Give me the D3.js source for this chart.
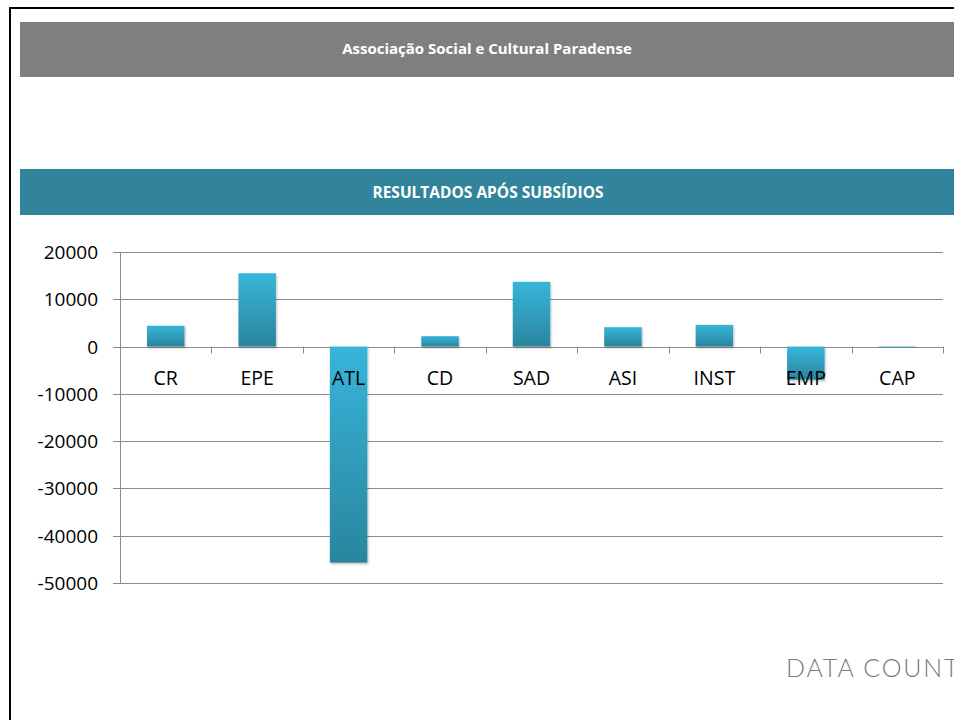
<!DOCTYPE html>
<html>
<head>
<meta charset="utf-8">
<script src="https://cdn.jsdelivr.net/npm/d3@7"></script>
<style>
  body { margin: 0; background: #fff; }
  svg { display: block; }
</style>
</head>
<body>
<div id="chart"></div>
<script>
const title = 'Associação Social e Cultural Paradense'
const subtitle = 'RESULTADOS APÓS SUBSÍDIOS'
const categories = ['CR', 'EPE', 'ATL', 'CD', 'SAD', 'ASI', 'INST', 'EMP', 'CAP']
const values = [4400, 15500, -45700, 2200, 13700, 4100, 4600, -7000, -150]
const yTicks = [20000, 10000, 0, -10000, -20000, -30000, -40000, -50000]

const width = 954
const height = 720

const svg = d3.select('#chart')
    .append('svg')
    .attr('width', width)
    .attr('height', height)

// page frame (left + top edges only visible)
svg.append('path')
    .attr('d', 'M10,720 V8 H954')
    .attr('fill', 'none')
    .attr('stroke', '#000')
    .attr('stroke-width', 2)

// grey header
svg.append('rect')
    .attr('x', 20).attr('y', 22).attr('width', 934).attr('height', 55)
    .attr('fill', '#7f7f7f')
svg.append('text')
    .attr('x', 487).attr('y', 54)
    .attr('text-anchor', 'middle')
    .attr('fill', '#fff')
    .attr('font-family', 'Open Sans, sans-serif')
    .attr('font-weight', 700)
    .attr('font-size', 15)
    .text(title)

// teal band
svg.append('rect')
    .attr('x', 20).attr('y', 169).attr('width', 934).attr('height', 46)
    .attr('fill', '#31849b')
svg.append('text')
    .attr('x', 488).attr('y', 198)
    .attr('text-anchor', 'middle')
    .attr('fill', '#fff')
    .attr('font-family', 'Open Sans, sans-serif')
    .attr('font-weight', 700)
    .attr('font-size', 15.5)
    .text(subtitle)

// scales
const x = d3.scaleBand()
    .domain(categories)
    .range([120, 943])
    .paddingInner(0.59)
    .paddingOuter(0.295)

const xBand = d3.scaleBand()
    .domain(categories)
    .range([120, 943])

const y = d3.scaleLinear()
    .domain([-50000, 20000])
    .range([583, 252])

// gradient for bars
const defs = svg.append('defs')
const grad = defs.append('linearGradient')
    .attr('id', 'barGrad')
    .attr('x1', 0).attr('y1', 0).attr('x2', 0).attr('y2', 1)
grad.append('stop').attr('offset', '0%').attr('stop-color', '#37b5da')
grad.append('stop').attr('offset', '100%').attr('stop-color', '#2a859e')

const shadow = defs.append('filter').attr('id', 'shadow')
    .attr('x', '-20%').attr('y', '-20%').attr('width', '140%').attr('height', '140%')
shadow.append('feDropShadow')
    .attr('dx', 1).attr('dy', 1.5).attr('stdDeviation', 1.2)
    .attr('flood-color', '#000').attr('flood-opacity', 0.25)

// gridlines
svg.append('g')
    .selectAll('line')
    .data(yTicks)
    .enter()
    .append('line')
    .attr('x1', 113)
    .attr('x2', 943)
    .attr('y1', d => Math.round(y(d)) + 0.5)
    .attr('y2', d => Math.round(y(d)) + 0.5)
    .attr('stroke', '#8c8c8c')
    .attr('stroke-width', 1)

// y axis line
svg.append('line')
    .attr('x1', 120.5).attr('x2', 120.5)
    .attr('y1', y(20000)).attr('y2', y(-50000))
    .attr('stroke', '#8c8c8c')

// category tick marks on zero line
svg.append('g')
    .selectAll('line')
    .data(categories.concat(['end']))
    .enter()
    .append('line')
    .attr('x1', (d, i) => Math.round(120 + i * xBand.bandwidth()) + 0.5)
    .attr('x2', (d, i) => Math.round(120 + i * xBand.bandwidth()) + 0.5)
    .attr('y1', y(0))
    .attr('y2', y(0) + 7)
    .attr('stroke', '#8c8c8c')

// bars
svg.append('g')
    .selectAll('rect')
    .data(values)
    .enter()
    .append('rect')
    .attr('x', (d, i) => x(categories[i]))
    .attr('width', x.bandwidth())
    .attr('y', d => y(Math.max(0, d)))
    .attr('height', d => Math.abs(y(d) - y(0)))
    .attr('fill', 'url(#barGrad)')
    .attr('filter', 'url(#shadow)')

// y tick labels
svg.append('g')
    .selectAll('text')
    .data(yTicks)
    .enter()
    .append('text')
    .attr('x', 98)
    .attr('y', d => y(d) + 7)
    .attr('text-anchor', 'end')
    .attr('font-family', 'Open Sans, sans-serif')
    .attr('font-size', 19)
    .attr('fill', '#000')
    .text(d => d)

// category labels
svg.append('g')
    .selectAll('text')
    .data(categories)
    .enter()
    .append('text')
    .attr('x', d => xBand(d) + xBand.bandwidth() / 2)
    .attr('y', y(0) + 38)
    .attr('text-anchor', 'middle')
    .attr('font-family', 'Open Sans, sans-serif')
    .attr('font-size', 19.5)
    .attr('fill', '#000')
    .text(d => d)

// logo text
svg.append('text')
    .attr('x', 786).attr('y', 677)
    .attr('font-family', 'Lato, sans-serif')
    .attr('font-weight', 300)
    .attr('font-size', 25)
    .attr('letter-spacing', 1.8)
    .attr('fill', '#7a7a7a')
    .text('DATA COUNT')
</script>
</body>
</html>
